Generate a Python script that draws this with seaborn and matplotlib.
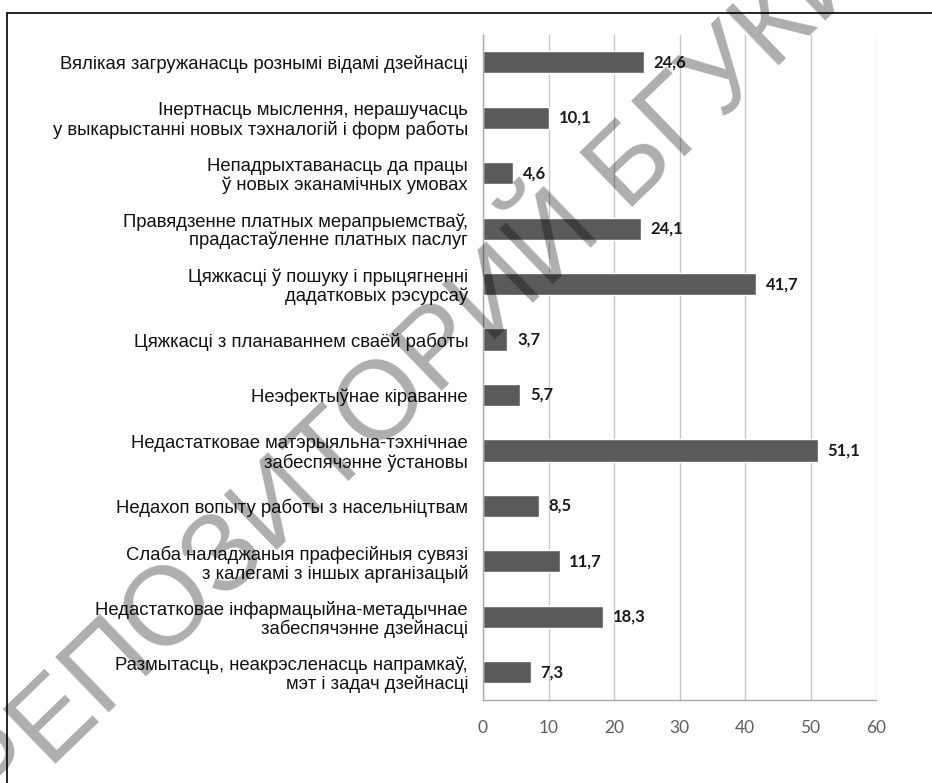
import numpy as np
import matplotlib
matplotlib.use("Agg")
import matplotlib.pyplot as plt
from matplotlib.lines import Line2D
import seaborn as sns

# Categories top -> bottom, shares in %
categories = [
    "Вялікая загружанасць рознымі відамі дзейнасці",
    "Інертнасць мыслення, нерашучасць\nу выкарыстанні новых тэхналогій і форм работы",
    "Непадрыхтаванасць да працы\nў новых эканамічных умовах",
    "Правядзенне платных мерапрыемстваў,\nпрадастаўленне платных паслуг",
    "Цяжкасці ў пошуку і прыцягненні\nдадатковых рэсурсаў",
    "Цяжкасці з планаваннем сваёй работы",
    "Неэфектыўнае кіраванне",
    "Недастатковае матэрыяльна-тэхнічнае\nзабеспячэнне ўстановы",
    "Недахоп вопыту работы з насельніцтвам",
    "Слаба наладжаныя прафесійныя сувязі\nз калегамі з іншых арганізацый",
    "Недастатковае інфармацыйна-метадычнае\nзабеспячэнне дзейнасці",
    "Размытасць, неакрэсленасць напрамкаў,\nмэт і задач дзейнасці",
]
values = [24.6, 10.1, 4.6, 24.1, 41.7, 3.7, 5.7, 51.1, 8.5, 11.7, 18.3, 7.3]
x_ticks = [0, 10, 20, 30, 40, 50, 60]

W, H = 932, 783
BAR = "#5a5a5a"
AXIS = "#a8a8a8"
GRID = "#c8c8c8"

sns.set_style("white")
plt.rcParams["font.family"] = ["Liberation Sans", "DejaVu Sans"]

fig = plt.figure(figsize=(W / 100, H / 100), dpi=100)
ax = fig.add_axes([483 / W, 1 - 700 / H, (876 - 483) / W, (700 - 34.5) / H])

sns.barplot(x=values, y=categories, orient="h", color=BAR, saturation=1,
            width=0.4, ax=ax)

ax.set_xlim(0, 60)
ax.set_ylim(11.5, -0.5)
ax.set_xticks(x_ticks)
ax.set_xlabel("")
ax.set_ylabel("")

ax.set_axisbelow(True)
ax.xaxis.grid(True, color=GRID, lw=1.0)
ax.yaxis.grid(False)
for s in ["top", "right"]:
    ax.spines[s].set_visible(False)
for s in ["left", "bottom"]:
    ax.spines[s].set_color(AXIS)
    ax.spines[s].set_linewidth(1.0)

ax.tick_params(axis="x", direction="out", length=4.3, width=1.0, color=AXIS,
               pad=10, labelsize=12.5, labelcolor="#5f5f5f")
for t in ax.get_xticklabels():
    t.set_family(["Lato", "DejaVu Sans"])

ax.tick_params(axis="y", which="major", length=0, pad=10.8, labelsize=13.3,
               labelcolor="#111111")
ax.set_yticks(np.arange(-0.5, len(categories), 1), minor=True)
ax.tick_params(axis="y", which="minor", direction="out", length=4.3,
               width=1.0, color=AXIS)
for t in ax.get_yticklabels():
    t.set_linespacing(1.1)

labels = [f"{v:.1f}".replace(".", ",") for v in values]
ax.bar_label(ax.containers[0], labels=labels, padding=7, fontsize=12,
             fontweight="bold", color="#1a1a1a", family=["Lato", "DejaVu Sans"])

# page frame
fig.add_artist(Line2D([7 / W, 7 / W], [0, 1 - 12.5 / H], transform=fig.transFigure,
                      color="black", lw=1.2))
fig.add_artist(Line2D([7 / W, 1], [1 - 12.5 / H, 1 - 12.5 / H],
                      transform=fig.transFigure, color="black", lw=1.2))

# repository watermark
fig.text(416 / W, 1 - 375 / H, "РЕПОЗИТОРИЙ БГУКИ", rotation=44,
         rotation_mode="anchor", ha="center", va="center", fontsize=80,
         fontweight="normal", color=(0, 0, 0, 0.32), zorder=10)

fig.savefig("out.png", dpi=100)
